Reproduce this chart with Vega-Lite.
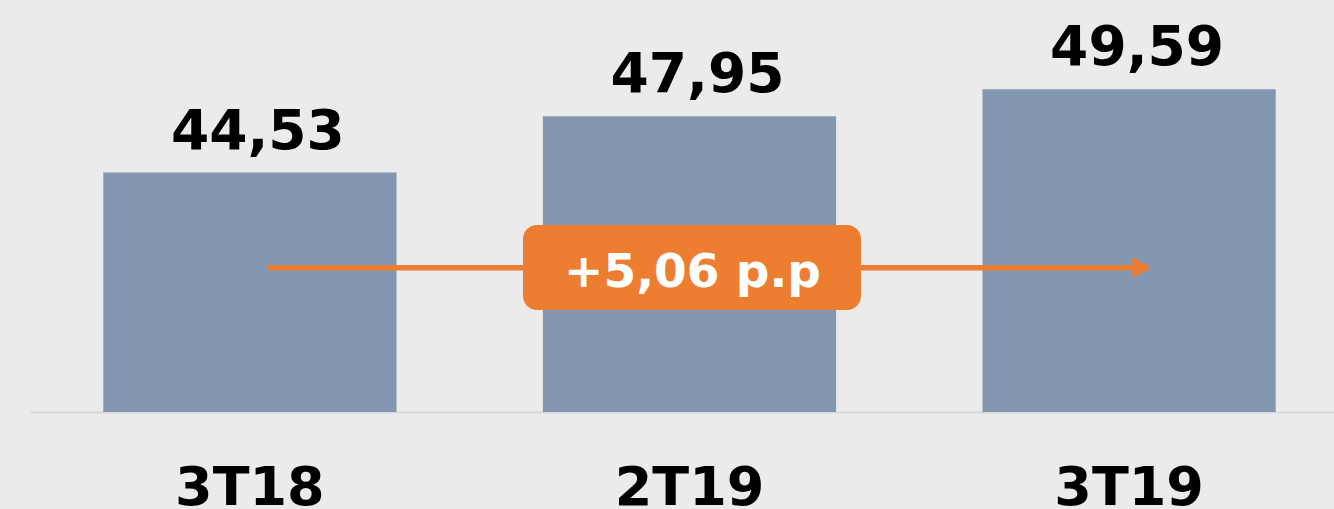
{
  "$schema": "https://vega.github.io/schema/vega-lite/v6.json",
  "autosize": {"type": "none"},
  "padding": {"left": 30, "top": 0, "right": 0, "bottom": 97},
  "width": 1319,
  "height": 412,
  "background": "#ebebeb",
  "datasets": {
    "bars": [
      {"period": "3T18", "value": 44.53},
      {"period": "2T19", "value": 47.95},
      {"period": "3T19", "value": 49.59}
    ],
    "note": [
      {"from": "3T18", "to": "3T19", "mid": "2T19", "arrow_y": 38.76, "box_top": 41.35, "box_bottom": 36.19, "text_y": 37.6, "text": "+5,06 p.p"}
    ]
  },
  "encoding": {
    "x": {
      "field": "period", "type": "nominal",
      "scale": {"domain": ["3T18", "2T19", "3T19"], "paddingInner": 0.333, "paddingOuter": 0.1667},
      "axis": {
        "title": null, "ticks": false, "grid": false,
        "domainColor": "#d9d9d9", "domainWidth": 2,
        "labelFont": "DejaVu Sans", "labelFontSize": 54, "labelFontWeight": "bold",
        "labelColor": "#000000", "labelPadding": 49, "labelAngle": 0
      }
    }
  },
  "layer": [
    {
      "data": {"name": "bars"},
      "mark": {"type": "bar", "color": "#8497b0"},
      "encoding": {
        "y": {"field": "value", "type": "quantitative", "scale": {"domain": [30, 55], "zero": false, "nice": false}, "axis": null},
        "y2": {"datum": 30}
      }
    },
    {
      "data": {"name": "bars"},
      "mark": {"type": "text", "font": "DejaVu Sans", "fontSize": 55, "fontWeight": "bold", "color": "#000000", "baseline": "alphabetic", "dy": -24, "dx": 8},
      "encoding": {
        "y": {"field": "value", "type": "quantitative"},
        "text": {"field": "value", "type": "quantitative", "format": ".2f"}
      }
    },
    {
      "data": {"name": "note"},
      "mark": {"type": "rule", "color": "#ed7d31", "strokeWidth": 5.5, "xOffset": 18, "x2Offset": 6},
      "encoding": {
        "x": {"field": "from", "type": "nominal"},
        "x2": {"field": "to"},
        "y": {"field": "arrow_y", "type": "quantitative"}
      }
    },
    {
      "data": {"name": "note"},
      "mark": {"type": "point", "shape": "triangle-right", "filled": true, "opacity": 1, "color": "#ed7d31", "size": 450, "xOffset": 12.5},
      "encoding": {
        "x": {"field": "to", "type": "nominal"},
        "y": {"field": "arrow_y", "type": "quantitative"}
      }
    },
    {
      "data": {"name": "note"},
      "mark": {"type": "bar", "color": "#ed7d31", "width": 338, "cornerRadius": 14, "xOffset": 2.5},
      "encoding": {
        "x": {"field": "mid", "type": "nominal"},
        "y": {"field": "box_top", "type": "quantitative"},
        "y2": {"field": "box_bottom"}
      }
    },
    {
      "data": {"name": "note"},
      "mark": {"type": "text", "font": "DejaVu Sans", "fontSize": 47, "fontWeight": "bold", "color": "#ffffff", "baseline": "alphabetic", "dx": 3},
      "encoding": {
        "x": {"field": "mid", "type": "nominal"},
        "y": {"field": "text_y", "type": "quantitative"},
        "text": {"field": "text", "type": "nominal"}
      }
    }
  ],
  "config": {
    "view": {"stroke": null},
    "locale": {"number": {"decimal": ",", "thousands": ".", "grouping": [3], "currency": ["", " €"]}}
  }
}
